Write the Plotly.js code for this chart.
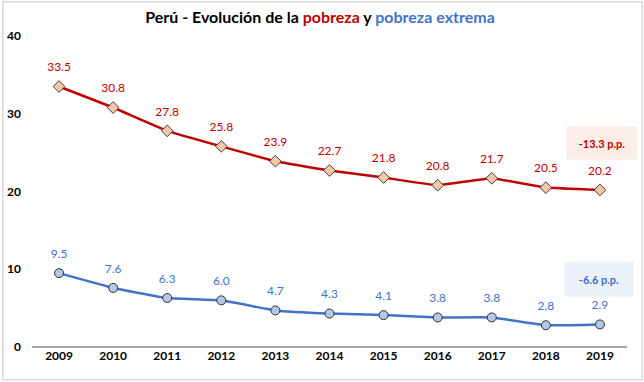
<!DOCTYPE html>
<html><head><meta charset="utf-8">
<script src="https://cdn.plot.ly/plotly-3.0.1.min.js"></script>
<style>html,body{margin:0;padding:0;background:#fff;}#c{width:644px;height:382px;}</style>
</head><body><div id="c"></div>
<script>
const years = ['2009','2010','2011','2012','2013','2014','2015','2016','2017','2018','2019'];
const pobreza = [33.5,30.8,27.8,25.8,23.9,22.7,21.8,20.8,21.7,20.5,20.2];
const pobrezaExtrema = [9.5,7.6,6.3,6.0,4.7,4.3,4.1,3.8,3.8,2.8,2.9];
const yTicks = [0,10,20,30,40];
const cambioPobreza = '-13.3 p.p.';
const cambioExtrema = '-6.6 p.p.';

const FONT = 'Lato, "Open Sans", sans-serif';
const RED = '#c00000', BLUE = '#4472c4';

const lineTrace = (ys, color, symbol, fill, edge) => ({
  x: years, y: ys, type:'scatter', mode:'lines+markers',
  line:{color:color, width:2.5, shape:'spline', smoothing:0.3},
  marker:{symbol:symbol, size:9, color:fill, line:{color:edge, width:1}},
  cliponaxis:false, hoverinfo:'none'
});
const labelTrace = (ys, color) => ({
  x: years, y: ys, type:'scatter', mode:'markers+text',
  marker:{size:18, color:'rgba(0,0,0,0)'},
  text: ys.map(v => v.toFixed(1)), textposition:'top center',
  textfont:{family:FONT, size:12, color:color}, cliponaxis:false, hoverinfo:'none'
});

const traces = [
  lineTrace(pobreza, RED, 'diamond', '#f4c7a8', '#404040'),
  lineTrace(pobrezaExtrema, BLUE, 'circle', '#b4c7e7', '#303030'),
  labelTrace(pobreza, RED),
  labelTrace(pobrezaExtrema, BLUE)
];

const layout = {
  width:644, height:382,
  margin:{l:32, r:17, t:36, b:35},
  paper_bgcolor:'rgba(0,0,0,0)', plot_bgcolor:'rgba(0,0,0,0)',
  showlegend:false,
  font:{family:FONT, color:'#000'},
  title:{text:'<b>Perú - Evolución de la <span style="color:#c00000">pobreza</span> y <span style="color:#4472c4">pobreza extrema</span></b>',
         font:{family:FONT, size:16, color:'#000'}, x:0.484, xanchor:'center', y:0.955, yanchor:'middle', xref:'paper'},
  xaxis:{type:'category', range:[-0.5,10.5], showgrid:false, zeroline:false,
         showline:false, ticks:'', tickfont:{family:FONT, size:12, color:'#000', weight:'bold'}, fixedrange:true},
  yaxis:{range:[0,40], tickvals:yTicks, showgrid:false, zeroline:true, zerolinecolor:'#a6a6a6', zerolinewidth:2,
         showline:false, ticks:'', ticklabelstandoff:10,
         tickfont:{family:FONT, size:12, color:'#000', weight:'bold'}, fixedrange:true},
  shapes:[
    {type:'rect', xref:'paper', yref:'paper', x0:-0.049, x1:1.0255, y0:-0.105, y1:1.11,
     line:{color:'#d9d9d9', width:1.5}, layer:'below'}
  ],
  annotations:[
    {xref:'paper', yref:'y', x:1.0185, y:26.3, xanchor:'right', yanchor:'middle',
     text:'<b>'+cambioPobreza+'</b>', showarrow:false, bgcolor:'#fbeee6',
     font:{family:FONT, size:11, color:RED}, width:68, height:30},
    {xref:'paper', yref:'y', x:1.012, y:8.7, xanchor:'right', yanchor:'middle',
     text:'<b>'+cambioExtrema+'</b>', showarrow:false, bgcolor:'#eaf1fa',
     font:{family:FONT, size:11, color:BLUE}, width:66, height:32}
  ]
};
Plotly.newPlot('c', traces, layout, {staticPlot:true, displayModeBar:false});
</script></body></html>
